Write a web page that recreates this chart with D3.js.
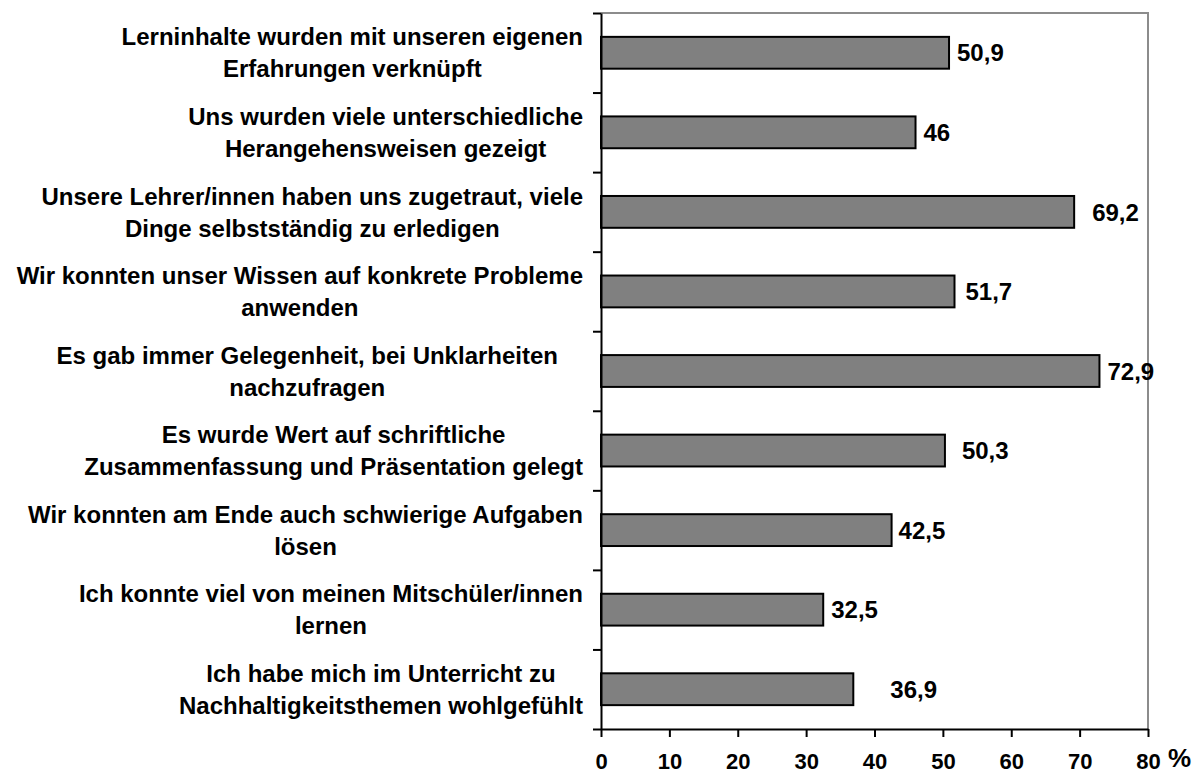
<!DOCTYPE html>
<html>
<head>
<meta charset="utf-8">
<script src="https://cdn.jsdelivr.net/npm/d3@7"></script>
<style>
  body { margin: 0; background: #fff; }
  text { font-family: "Liberation Sans", Arial, sans-serif; font-weight: bold; fill: #000; }
</style>
</head>
<body>
<svg id="bar-chart" width="1196" height="775"></svg>
<script>
// categories, top to bottom, already split into lines as in the picture
var categories = [
  ["Lerninhalte wurden mit unseren eigenen", "Erfahrungen verknüpft"],
  ["Uns wurden viele unterschiedliche", "Herangehensweisen gezeigt"],
  ["Unsere Lehrer/innen haben uns zugetraut, viele", "Dinge selbstständig zu erledigen"],
  ["Wir konnten unser Wissen auf konkrete Probleme", "anwenden"],
  ["Es gab immer Gelegenheit, bei Unklarheiten", "nachzufragen"],
  ["Es wurde Wert auf schriftliche", "Zusammenfassung und Präsentation gelegt"],
  ["Wir konnten am Ende auch schwierige Aufgaben", "lösen"],
  ["Ich konnte viel von meinen Mitschüler/innen", "lernen"],
  ["Ich habe mich im Unterricht zu", "Nachhaltigkeitsthemen wohlgefühlt"]
];
var values = [50.9, 46, 69.2, 51.7, 72.9, 50.3, 42.5, 32.5, 36.9];
var valueLabels = ["50,9", "46", "69,2", "51,7", "72,9", "50,3", "42,5", "32,5", "36,9"];
var xTicks = [0, 10, 20, 30, 40, 50, 60, 70, 80];

// hand placed label nudges seen in the original (px)
var valueNudge = [0, 0, 10, 3, 0, 9, -1, 0, 29];
var catNudge = [0, 0, 0, 0, -25, 0, 0, 0, 0];

var svg = d3.select("#bar-chart"),
    margin = {top: 13, right: 48, bottom: 46, left: 601},
    width = +svg.attr("width") - margin.left - margin.right,
    height = +svg.attr("height") - margin.top - margin.bottom;

var g = svg.append("g")
    .attr("transform", "translate(" + margin.left + "," + margin.top + ")");

var x = d3.scaleLinear().domain([0, 80]).range([0, width]);
var idx = d3.range(categories.length);
var y = d3.scaleBand().domain(idx).range([0, height])
    .paddingInner(0.6).paddingOuter(0.3);
var yEdge = d3.scaleLinear().domain([0, categories.length]).range([0, height]);

// gray frame top and right
g.append("path")
    .attr("d", "M0,0H" + width + "V" + height)
    .attr("fill", "none")
    .attr("stroke", "#8c8c8c")
    .attr("stroke-width", 2);

// bars
g.selectAll(".bar")
    .data(idx)
  .enter().append("rect")
    .attr("class", "bar")
    .attr("x", x(0))
    .attr("y", function(i) { return y(i); })
    .attr("width", function(i) { return x(values[i]); })
    .attr("height", y.bandwidth())
    .attr("fill", "#808080")
    .attr("stroke", "#000")
    .attr("stroke-width", 2);

// value labels
g.selectAll(".bartext")
    .data(idx)
  .enter().append("text")
    .attr("class", "bartext")
    .attr("x", function(i) { return x(values[i]) + 8 + valueNudge[i]; })
    .attr("y", function(i) { return y(i) + y.bandwidth() / 2; })
    .attr("dy", "0.36em")
    .style("font-size", "24px")
    .text(function(i) { return valueLabels[i]; });

// x axis
var xAxis = g.append("g")
    .attr("class", "x axis")
    .attr("transform", "translate(0," + height + ")")
    .call(d3.axisBottom(x).tickValues(xTicks).tickSize(8).tickSizeOuter(0));
xAxis.attr("font-size", null).attr("font-family", null);
xAxis.select(".domain").attr("stroke", "#000").attr("stroke-width", 2);
xAxis.selectAll(".tick line").attr("stroke", "#000").attr("stroke-width", 2);
xAxis.selectAll(".tick text")
    .attr("y", 40)
    .attr("dy", null)
    .style("font-size", "22px")
    .attr("fill", "#000");

svg.append("text")
    .attr("x", margin.left + width + 20)
    .attr("y", margin.top + height + 38)
    .style("font-size", "26px")
    .text("%");

// y axis: ticks on the category boundaries, no labels
var yAxis = g.append("g")
    .attr("class", "y axis")
    .call(d3.axisLeft(yEdge).tickValues(d3.range(categories.length + 1))
        .tickSize(8).tickSizeOuter(0).tickFormat(""));
yAxis.select(".domain").attr("stroke", "#000").attr("stroke-width", 2);
yAxis.selectAll(".tick line").attr("stroke", "#000").attr("stroke-width", 2);

// category labels: lines centred on each other, block right aligned near axis
var labelRight = -18;
var cat = g.selectAll(".catlabel")
    .data(idx)
  .enter().append("text")
    .attr("class", "catlabel")
    .attr("text-anchor", "middle")
    .style("font-size", "24px");

cat.each(function(i) {
    var t = d3.select(this);
    var cy = y(i) + y.bandwidth() / 2;
    categories[i].forEach(function(line, k) {
        t.append("tspan")
            .attr("y", cy + (k === 0 ? -16 : 16))
            .attr("dy", "0.36em")
            .text(line);
    });
    var w = d3.max(t.selectAll("tspan").nodes(), function(n) { return n.getComputedTextLength(); });
    var cx = labelRight - w / 2 + catNudge[i];
    t.selectAll("tspan").attr("x", cx);
});
</script>
</body>
</html>
